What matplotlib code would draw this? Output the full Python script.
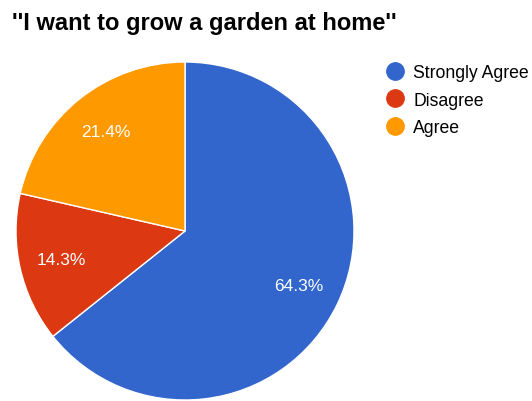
import matplotlib
matplotlib.use("Agg")
from matplotlib import pyplot as plt
from matplotlib.lines import Line2D

title = "''I want to grow a garden at home''"
labels = ["Strongly Agree", "Disagree", "Agree"]
counts = [9, 2, 3]
colors = ["#3366CC", "#DC3912", "#FF9900"]

plt.rcParams["font.family"] = ["Liberation Sans", "DejaVu Sans"]

W, H = 532, 402
fig = plt.figure(figsize=(W / 100, H / 100), dpi=100)

# pie centred at (185, 232) px with radius 169 px
cx, cy, r = 185, 232, 169
ax = fig.add_axes([(cx - r) / W, (H - cy - r) / H, 2 * r / W, 2 * r / H])
ax.pie(
    counts,
    colors=colors,
    startangle=90,
    counterclock=False,
    autopct="%.1f%%",
    pctdistance=0.75,
    wedgeprops=dict(edgecolor="white", linewidth=1),
    textprops=dict(color="white", fontsize=12.5),
)
ax.set_xlim(-1, 1)
ax.set_ylim(-1, 1)
ax.set_aspect("auto")

fig.text(12 / W, 1 - 30 / H, title, fontsize=17, fontweight="bold",
         va="baseline", ha="left")

handles = [
    Line2D([], [], marker="o", linestyle="none", markersize=12.5,
           markerfacecolor=c, markeredgecolor=c)
    for c in colors
]
fig.legend(
    handles, labels,
    loc="upper left", bbox_to_anchor=(377 / W, 1 - 58 / H),
    frameon=False, fontsize=12.7, handletextpad=0.45,
    labelspacing=0.6, handlelength=1.2, borderaxespad=0,
)

fig.savefig("out.png", dpi=100)
